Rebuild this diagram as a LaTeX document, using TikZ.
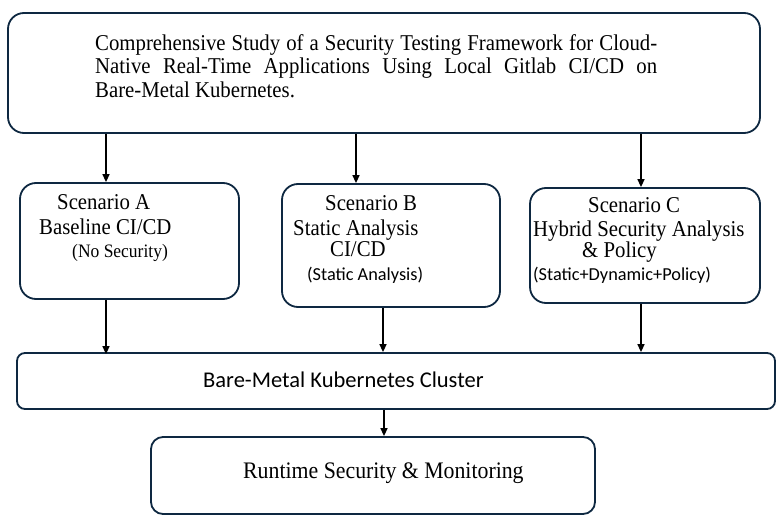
\documentclass[tikz,border=0pt]{standalone}
\usepackage{fontspec}
\setmainfont{Liberation Serif}[FakeStretch=0.92]
\newfontfamily\sansf{Carlito}
\usetikzlibrary{arrows.meta}
\definecolor{navy}{RGB}{14,40,65}
\tikzset{
  box/.style={draw=navy, line width=1.8pt, rounded corners=16pt, fill=white, inner sep=0pt},
  arr/.style={draw=black, line width=1.5pt, -{Triangle[width=7pt,length=8pt]}},
  txt/.style={inner sep=0pt, anchor=base west},
  serif/.style={font=\fontsize{22.6}{26}\selectfont},
  serifs/.style={font=\fontsize{19}{22}\selectfont},
  sanss/.style={font=\sansf\fontsize{18.3}{20}\selectfont},
  sansl/.style={font=\sansf\fontsize{22.5}{26}\selectfont},
}
\begin{document}
\begin{tikzpicture}[x=1pt,y=-1pt]
\useasboundingbox (0,0) rectangle (780,522);
% boxes
\node[box, minimum width=752pt, minimum height=120pt] (top) at (384,73) {};
\node[box, minimum width=219pt, minimum height=116pt] (a) at (129.5,241) {};
\node[box, minimum width=218pt, minimum height=123pt] (b) at (391,245.5) {};
\node[box, minimum width=230pt, minimum height=115pt] (c) at (645,245.5) {};
\node[box, rounded corners=8pt, minimum width=758pt, minimum height=56pt] (k) at (396,381) {};
\node[box, rounded corners=12pt, minimum width=444pt, minimum height=77pt] (r) at (373,475.5) {};
% x positions of connectors
\coordinate (xa) at (106,0);
\coordinate (xb) at (356,0);
\coordinate (xc) at (641,0);
\coordinate (xb2) at (383,0);
\coordinate (xk) at (384,0);
% top text
\node[txt, serif] (t1) at (95,50) {\makebox[562pt][s]{Comprehensive Study of a Security Testing Framework for Cloud-}};
\node[txt, serif] (t2) at (95,73) {\makebox[562pt][s]{Native Real-Time Applications Using Local Gitlab CI/CD on}};
\node[txt, serif] (t3) at (95,97) {Bare-Metal Kubernetes.};
% scenario A
\node[txt, serif] (a1) at (57,209) {Scenario A};
\node[txt, serif] (a2) at (39,234) {Baseline CI/CD};
\node[txt, serifs] (a3) at (72,257) {(No Security)};
% scenario B
\node[txt, serif] (b1) at (325,210) {Scenario B};
\node[txt, serif] (b2) at (293,235) {Static Analysis};
\node[txt, serif] (b3) at (330,256) {CI/CD};
\node[txt, sanss] (b4) at (307,280) {(Static Analysis)};
% scenario C
\node[txt, serif] (c1) at (588,212) {Scenario C};
\node[txt, serif] (c2) at (533,236) {Hybrid Security Analysis};
\node[txt, serif] (c3) at (582,257) {\&\ Policy};
\node[txt, sanss] (c4) at (533,280) {(Static+Dynamic+Policy)};
% cluster and runtime
\node[txt, sansl] (k1) at (203,387) {Bare-Metal Kubernetes Cluster};
\node[txt, font=\fontsize{23.7}{27}\selectfont] (r1) at (243,478) {Runtime Security \& Monitoring};
% connectors
\draw[arr] (top.south -| xa) -- (a.north -| xa);
\draw[arr] (top.south -| xb) -- (b.north -| xb);
\draw[arr] (top.south -| xc) -- (c.north -| xc);
\draw[arr] (a.south -| xa) -- ([yshift=-2pt]k.north -| xa);
\draw[arr] (b.south -| xb2) -- (k.north -| xb2);
\draw[arr] (c.south -| xc) -- (k.north -| xc);
\draw[arr] (k.south -| xk) -- (r.north -| xk);
\end{tikzpicture}
\end{document}
